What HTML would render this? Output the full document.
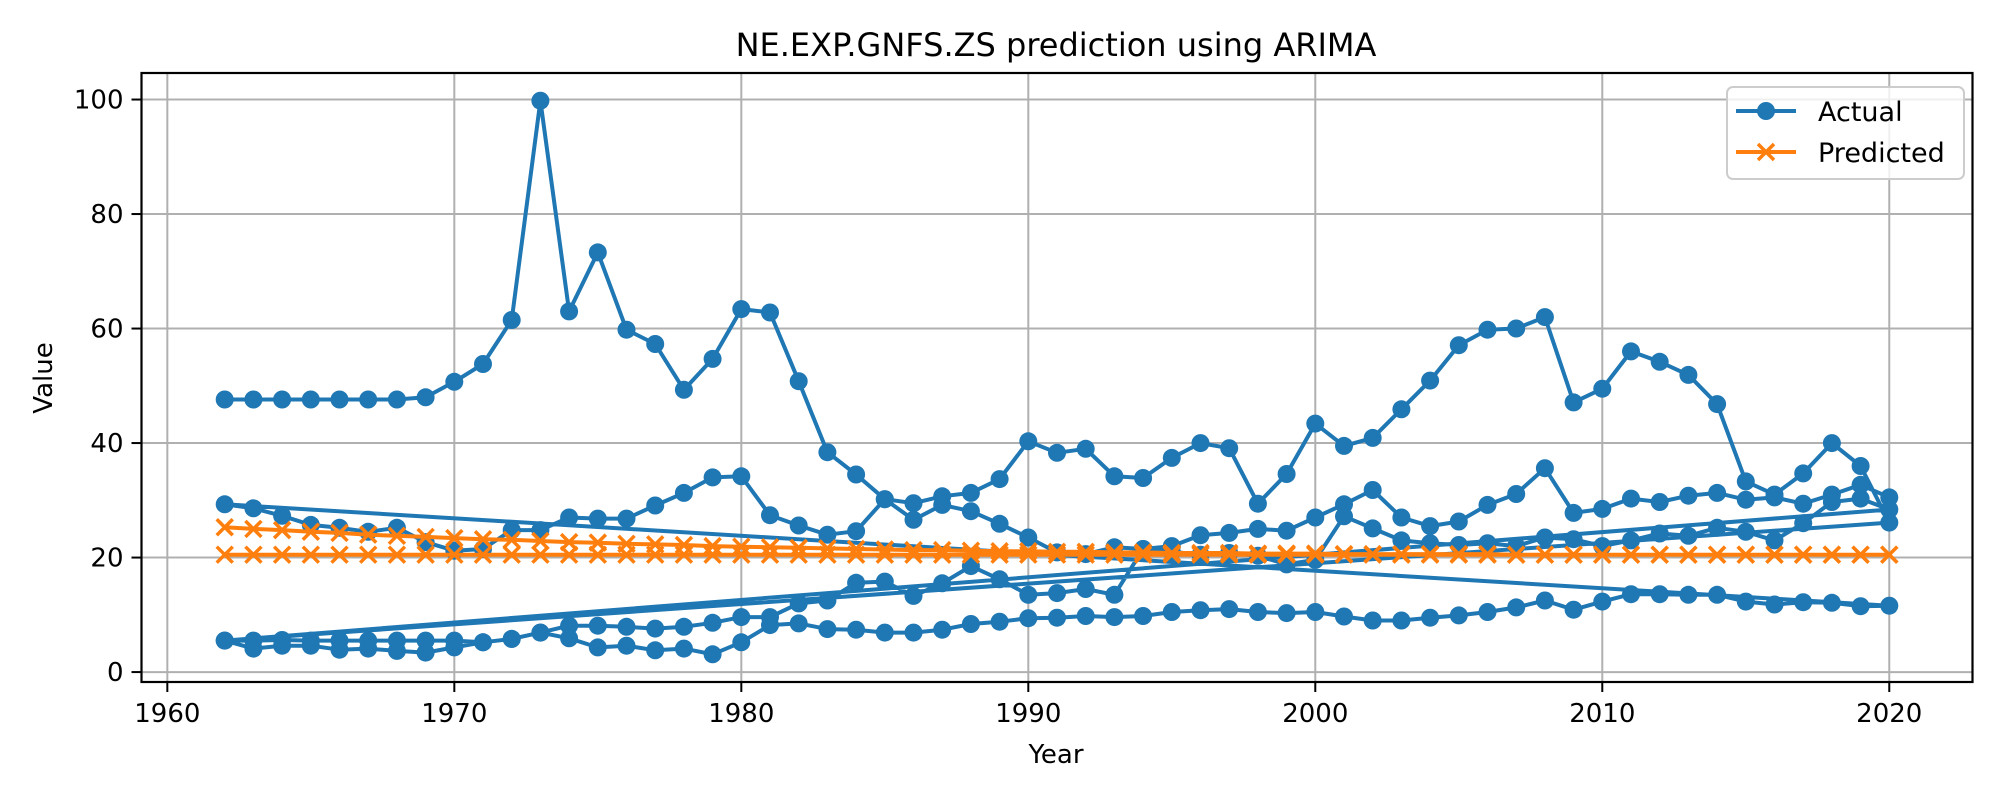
<!DOCTYPE html>
<html><head><meta charset="utf-8"><title>NE.EXP.GNFS.ZS prediction using ARIMA</title>
<style>
html,body{margin:0;padding:0;background:#fff;}
svg{display:block;font-family:"DejaVu Sans","Liberation Sans",sans-serif;}
</style></head>
<body>
<svg id="chart" width="2000" height="800" viewBox="0 0 2000 800" xmlns="http://www.w3.org/2000/svg">
<rect x="0" y="0" width="2000" height="800" fill="#fff"/>
<g id="grid"></g>
<g id="series"></g>
<g id="axes"></g>
<text x="1056" y="56" text-anchor="middle" font-size="32" fill="#000">NE.EXP.GNFS.ZS prediction using ARIMA</text>
<text x="1056" y="763" text-anchor="middle" font-size="26" fill="#000">Year</text>
<text x="0" y="0" transform="translate(52,378) rotate(-90)" text-anchor="middle" font-size="26" fill="#000">Value</text>
<g>
  <rect x="1727" y="87" width="237" height="92" rx="6" fill="#fff" fill-opacity="0.8" stroke="#cccccc" stroke-width="2"/>
  <g>
    <line x1="1736" y1="111" x2="1796" y2="111" stroke="#1f77b4" stroke-width="4"/>
    <circle cx="1766" cy="111" r="9" fill="#1f77b4"/>
    <text x="1818" y="121" font-size="27" fill="#000">Actual</text>
  </g>
  <g>
    <line x1="1736" y1="152" x2="1796" y2="152" stroke="#ff7f0e" stroke-width="4"/>
    <path d="M1758 144 L1774 160 M1758 160 L1774 144" stroke="#ff7f0e" stroke-width="3.5"/>
    <text x="1818" y="162" font-size="27" fill="#000">Predicted</text>
  </g>
</g>
</svg>
<script>
const years = [1962,1963,1964,1965,1966,1967,1968,1969,1970,1971,1972,1973,1974,1975,1976,1977,1978,1979,1980,1981,1982,1983,1984,1985,1986,1987,1988,1989,1990,1991,1992,1993,1994,1995,1996,1997,1998,1999,2000,2001,2002,2003,2004,2005,2006,2007,2008,2009,2010,2011,2012,2013,2014,2015,2016,2017,2018,2019,2020];
const actualA = [47.6,47.6,47.6,47.6,47.6,47.6,47.6,48.0,50.7,53.8,61.5,99.8,63.0,73.3,59.8,57.3,49.3,54.7,63.4,62.8,50.8,38.4,34.5,30.2,29.5,30.7,31.3,33.7,40.3,38.3,39.0,34.2,33.9,37.4,40.0,39.1,29.4,34.6,43.4,39.5,40.9,45.9,50.9,57.1,59.8,60.0,62.0,47.1,49.5,56.0,54.2,51.9,46.8,33.3,31.0,34.7,40.0,36.0,26.1];
const actualC = [5.5,5.5,5.6,5.5,5.5,5.5,5.5,5.5,5.5,5.2,5.8,6.9,8.1,8.1,7.9,7.6,7.9,8.6,9.6,9.6,12.0,12.5,15.6,15.8,13.3,15.5,18.5,16.2,13.5,13.8,14.5,13.5,21.5,21.0,20.5,20.8,20.3,18.8,19.6,27.2,25.1,23.0,22.5,22.2,22.5,22.0,23.5,23.2,22.0,23.0,24.2,23.8,25.2,24.5,23.0,26.0,29.7,30.3,28.4];
const actualD = [5.5,4.1,4.6,4.6,3.9,4.1,3.7,3.4,4.3,5.2,5.8,6.9,5.9,4.3,4.6,3.8,4.1,3.1,5.2,8.2,8.5,7.5,7.4,6.9,6.9,7.4,8.4,8.8,9.4,9.5,9.8,9.6,9.8,10.5,10.8,11.0,10.5,10.3,10.5,9.7,9.0,9.0,9.5,9.9,10.5,11.3,12.5,10.9,12.3,13.6,13.6,13.5,13.5,12.3,11.8,12.2,12.1,11.5,11.6];
const actualB = [29.3,28.6,27.3,25.7,25.2,24.5,25.2,22.7,21.2,21.5,24.8,24.8,27.0,26.8,26.8,29.1,31.3,34.0,34.2,27.4,25.6,24.0,24.6,30.2,26.6,29.2,28.1,25.9,23.5,20.9,20.6,21.8,21.5,22.0,23.9,24.3,25.0,24.7,27.0,29.3,31.8,27.0,25.5,26.3,29.2,31.1,35.6,27.8,28.5,30.3,29.7,30.8,31.3,30.1,30.5,29.4,31.0,32.7,30.5];
const predictedP1 = [25.3,25.0,24.8,24.5,24.3,24.0,23.8,23.6,23.4,23.2,23.1,22.9,22.7,22.6,22.4,22.3,22.2,22.0,21.9,21.8,21.7,21.6,21.5,21.4,21.3,21.3,21.2,21.1,21.1,21.0,21.0,20.9,20.9,20.8,20.8,20.8,20.7,20.7,20.7,20.6,20.6,20.6,20.6,20.6,20.6,20.5,20.5,20.5,20.5,20.5,20.5,20.5,20.5,20.5,20.5,20.5,20.5,20.5,20.5];
const predictedP2 = [20.5,20.5,20.5,20.5,20.5,20.5,20.5,20.5,20.5,20.5,20.5,20.5,20.5,20.5,20.5,20.5,20.5,20.5,20.5,20.5,20.5,20.5,20.5,20.5,20.5,20.5,20.5,20.5,20.5,20.5,20.5,20.5,20.5,20.5,20.5,20.5,20.5,20.5,20.5,20.5,20.5,20.5,20.5,20.5,20.5,20.5,20.5,20.5,20.5,20.5,20.5,20.5,20.5,20.5,20.5,20.5,20.5,20.5,20.5];
const xTicks = [1960,1970,1980,1990,2000,2010,2020];
const yTicks = [0,20,40,60,80,100];

const NS = "http://www.w3.org/2000/svg";
const L = 141.5, R = 1972.5, T = 73, B = 682;
const actualSeries = [actualA, actualC, actualD, actualB];
const predictedSeries = [predictedP1, predictedP2];
const allVals = actualSeries.concat(predictedSeries).flat();
const xMinD = Math.min(...years), xMaxD = Math.max(...years);
const yMinD = Math.min(...allVals), yMaxD = Math.max(...allVals);
const xPad = (xMaxD - xMinD) * 0.05, yPad = (yMaxD - yMinD) * 0.05;
const x0 = xMinD - xPad, x1 = xMaxD + xPad, y0 = yMinD - yPad, y1 = yMaxD + yPad;
function sx(v){ return L + (v - x0) / (x1 - x0) * (R - L); }
function sy(v){ return B - (v - y0) / (y1 - y0) * (B - T); }
function mk(tag, attrs, parent){
  const e = document.createElementNS(NS, tag);
  for (const k in attrs) e.setAttribute(k, attrs[k]);
  parent.appendChild(e);
  return e;
}
const grid = document.getElementById('grid');
const axes = document.getElementById('axes');
const series = document.getElementById('series');

xTicks.forEach(t => {
  const X = sx(t);
  const g = mk('line', {x1:X, y1:T, x2:X, y2:B, stroke:'#b0b0b0', 'stroke-width':2}, grid);
  
  
  const tk = mk('line', {x1:X, y1:B, x2:X, y2:B+10, stroke:'#000', 'stroke-width':2}, axes);
  
  
  const lb = mk('text', {x:X, y:B+40, 'text-anchor':'middle', 'font-size':26, fill:'#000'}, axes);
  lb.textContent = t;
  
  
});
yTicks.forEach(t => {
  const Y = sy(t);
  const g = mk('line', {x1:L, y1:Y, x2:R, y2:Y, stroke:'#b0b0b0', 'stroke-width':2}, grid);
  
  
  const tk = mk('line', {x1:L-10, y1:Y, x2:L, y2:Y, stroke:'#000', 'stroke-width':2}, axes);
  
  
  const lb = mk('text', {x:L-18, y:Y+9, 'text-anchor':'end', 'font-size':26, fill:'#000'}, axes);
  lb.textContent = t;
  
  
});
const frame = mk('rect', {x:L, y:T, width:R-L, height:B-T, fill:'none', stroke:'#000', 'stroke-width':2.2}, axes);



// Actual: concatenated series drawn as one line
let pts = [];
actualSeries.forEach(s => s.forEach((v, i) => pts.push([sx(years[i]), sy(v)])));
const aLine = mk('polyline', {points: pts.map(p => p[0].toFixed(1)+','+p[1].toFixed(1)).join(' '), fill:'none', stroke:'#1f77b4', 'stroke-width':4, 'stroke-linejoin':'round'}, series);


pts.forEach(p => {
  const c = mk('circle', {cx:p[0].toFixed(1), cy:p[1].toFixed(1), r:9, fill:'#1f77b4'}, series);
  
  
});

// Predicted
let pp = [];
predictedSeries.forEach(s => s.forEach((v, i) => pp.push([sx(years[i]), sy(v)])));
const pLine = mk('polyline', {points: pp.map(p => p[0].toFixed(1)+','+p[1].toFixed(1)).join(' '), fill:'none', stroke:'#ff7f0e', 'stroke-width':4, 'stroke-linejoin':'round'}, series);


pp.forEach(p => {
  const d = 'M'+(p[0]-8)+' '+(p[1]-8)+' L'+(p[0]+8)+' '+(p[1]+8)+' M'+(p[0]-8)+' '+(p[1]+8)+' L'+(p[0]+8)+' '+(p[1]-8);
  const m = mk('path', {d:d, stroke:'#ff7f0e', 'stroke-width':3.5, fill:'none'}, series);
  
  
});
</script>
</body></html>
